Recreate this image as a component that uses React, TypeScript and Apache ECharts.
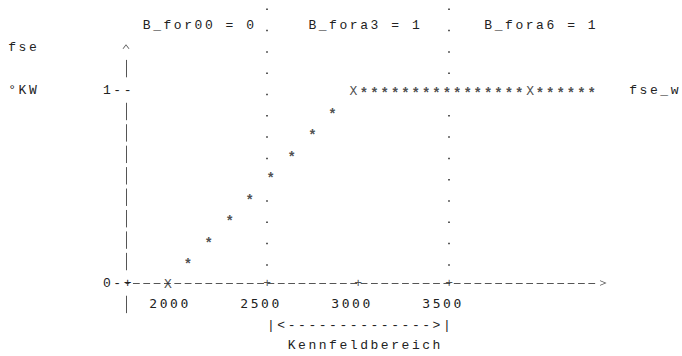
import React, { useEffect, useRef } from 'react';
import * as echarts from 'echarts';

// ---- data ----
// fse_w characteristic: knots (X) and sampled points (*)
const knotX = [1955, 2975, 3945];
const knotY = [0, 1, 1];
const rampX = [2065, 2180, 2295, 2405, 2520, 2635, 2750, 2860];
const rampY = [0.111, 0.222, 0.333, 0.444, 0.556, 0.667, 0.778, 0.889];
const flatX = [3033, 3090, 3147, 3204, 3261, 3317, 3374, 3431, 3488, 3545, 3602, 3658, 3715, 3772, 3829, 3886, 4000, 4056, 4113, 4170, 4227, 4284];
const flatY = [1, 1, 1, 1, 1, 1, 1, 1, 1, 1, 1, 1, 1, 1, 1, 1, 1, 1, 1, 1, 1, 1];
const xTickLabels = [2000, 2500, 3000, 3500];
const xPlusTicks = [2500, 3000, 3500];
const yTickLabels = [0, 1];
const regionBounds = [2500, 3500];
const regionTexts = ['B_for00 = 0', 'B_fora3 = 1', 'B_fora6 = 1'];
const yName = 'fse';
const yUnit = '\u00B0KW';
const seriesName = 'fse_w';
const rangeName = 'Kennfeldbereich';

// ---- layout (pixels) ----
const W = 682;
const H = 356;
const X_MIN = 1725;
const X_MAX = 4320;
const PXX = 0.182; // px per rpm
const GRID_LEFT = 126;
const Y_MIN = -0.2;
const Y_MAX = 1.45;
const Y0 = 283; // px of y = 0
const PYY = 193; // px per unit
const GRID_TOP = Y0 - Y_MAX * PYY;
const GRID_BOTTOM = H - (Y0 - Y_MIN * PYY);
const GRID_RIGHT = W - (GRID_LEFT + (X_MAX - X_MIN) * PXX);
const CELL = 10.35;
const ROW = 21.44;
const cellX = (k: number) => GRID_LEFT + CELL * k;
const rowY = (r: number) => Y0 - (13 - r) * ROW;
const pxToY = (px: number) => (Y0 - px) / PYY;
const dotY = (r: number) => 9.3 + 21.3 * r;

const MONO = '"Liberation Mono", "Courier New", monospace';
const DIGITS = '"DejaVu Sans Mono", "Liberation Mono", monospace';
const INK = '#222';
const LINE = '#555';

const CARET = 'path://M3.5,0L7,4.5L6,4.5L3.5,1.3L1,4.5L0,4.5Z';
const CHEVRON = 'path://M2.8,0L5.6,6.6L4.7,6.6L2.8,1.9L0.9,6.6L0,6.6Z';

function dotSeg(x: number, a: number, b: number) {
  return [
    { coord: [x, pxToY(dotY(a) - 0.75)], symbol: 'none', lineStyle: { color: '#333', width: 1.6, type: [1.5, 19.8], cap: 'butt' } },
    { coord: [x, pxToY(dotY(b) + 0.75)], symbol: 'none' },
  ];
}

export default function App() {
  const ref = useRef<HTMLDivElement>(null);
  useEffect(() => {
    if (!ref.current) return;
    const chart = echarts.init(ref.current, undefined, { renderer: 'svg', width: W, height: H });

    const knotLabel = { fontWeight: 'normal', fontSize: 13, offset: [1.27, 1] };
    const marks: any[] = [];
    knotX.forEach((x, i) => marks.push({ value: [x, knotY[i], 'X'], label: knotLabel }));
    rampX.forEach((x, i) => marks.push({ value: [x, rampY[i], '*'] }));
    flatX.forEach((x, i) => marks.push({ value: [x, flatY[i], '*'] }));

    const yAxisLines = [
      // rows 5..12 of '|'
      [
        { coord: [X_MIN, pxToY(rowY(12) + 8.7)], symbol: 'none', lineStyle: { color: LINE, width: 1, type: [17.4, ROW - 17.4] } },
        { coord: [X_MIN, pxToY(rowY(5) - 8.7)], symbol: 'none' },
      ],
      // row 14 '|'
      [
        { coord: [X_MIN, pxToY(rowY(14) + 8.7)], symbol: 'none', lineStyle: { color: LINE, width: 1, type: 'solid' } },
        { coord: [X_MIN, pxToY(rowY(14) - 8.7)], symbol: 'none' },
      ],
      // row 3 '|' and '^'
      [
        { coord: [X_MIN, pxToY(rowY(3) + 8.7)], symbol: 'none', lineStyle: { color: LINE, width: 1, type: [17.4, 200] } },
        { coord: [X_MIN, pxToY(46.5)], symbol: CARET, symbolSize: [7, 4.5] },
      ],
    ];
    const dotted = [
      dotSeg(regionBounds[0], 0, 7),
      dotSeg(regionBounds[0], 9, 12),
      dotSeg(regionBounds[1], 0, 3),
      dotSeg(regionBounds[1], 5, 12),
    ];

    const textEl = (text: string, k: number, r: number, font = MONO) => ({
      type: 'text',
      x: cellX(k) - 3.9,
      y: r,
      silent: true,
      style: { text, fontFamily: font, fontSize: 13, fill: INK, align: 'left', verticalAlign: 'middle' },
    });

    chart.setOption({
      animation: false,
      backgroundColor: '#fff',
      grid: { left: GRID_LEFT, right: GRID_RIGHT, top: GRID_TOP, bottom: GRID_BOTTOM, containLabel: false, outerBoundsMode: 'none' },
      xAxis: {
        type: 'value',
        min: X_MIN,
        max: X_MAX,
        axisLine: {
          show: true,
          onZero: true,
          symbol: ['none', CHEVRON],
          symbolSize: [5.6, 6.6],
          symbolOffset: [0, 5],
          lineStyle: { color: LINE, width: 1, type: [6, CELL - 6], dashOffset: 3 },
        },
        axisTick: { show: false },
        splitLine: { show: false },
        axisLabel: {
          customValues: xTickLabels,
          formatter: (v: number) => String(v),
          fontFamily: DIGITS,
          fontSize: 13,
          color: INK,
          margin: -25,
          padding: [0, 12, 0, 0],
          hideOverlap: false,
        },
      },
      yAxis: {
        type: 'value',
        min: Y_MIN,
        max: Y_MAX,
        axisLine: { show: false },
        axisTick: { show: false },
        splitLine: { show: false },
        axisLabel: {
          customValues: yTickLabels,
          formatter: (v: number) => (v === 0 ? '0-+' : '1--'),
          fontFamily: MONO,
          fontSize: 13,
          color: INK,
          margin: -8,
          hideOverlap: false,
        },
      },
      series: [
        {
          name: 'axis',
          type: 'scatter',
          z: 3,
          silent: true,
          symbol: 'circle',
          symbolSize: 1,
          itemStyle: { color: 'transparent' },
          data: xPlusTicks.map((v) => [v, 0]),
          label: { show: true, position: 'inside', formatter: '+', fontFamily: MONO, fontSize: 13, color: INK, offset: [1.27, 0] },
          markLine: {
            silent: true,
            animation: false,
            symbol: 'none',
            label: { show: false },
            emphasis: { disabled: true },
            data: [...yAxisLines, ...dotted],
          },
        },
        {
          name: seriesName,
          type: 'scatter',
          z: 4,
          silent: true,
          symbol: 'circle',
          symbolSize: 1,
          itemStyle: { color: 'transparent' },
          data: marks,
          label: {
            show: true,
            position: 'inside',
            formatter: (p: any) => p.value[2],
            fontFamily: MONO,
            fontSize: 14,
            fontWeight: 'bold',
            color: INK,
            offset: [1.27, 3.5],
          },
        },
      ],
      graphic: [
        textEl(yName, -11, rowY(2)),
        textEl(yUnit, -11, rowY(4)),
        textEl(regionTexts[0], 2, rowY(1)),
        textEl(regionTexts[1], 18, rowY(1)),
        textEl(regionTexts[2], 35, rowY(1)),
        textEl(seriesName, 49, rowY(4)),
        textEl('|<-------------->|', 14, rowY(15)),
        textEl(rangeName, 16, 345),
      ],
    });
    return () => chart.dispose();
  }, []);

  return (
    <div style={{ position: 'absolute', left: 0, top: 0, width: W, height: H, background: '#fff' }}>
      <style>{`.ascii-chart text { letter-spacing: 2.55px; }`}</style>
      <div ref={ref} className="ascii-chart" style={{ width: W, height: H }} />
    </div>
  );
}
